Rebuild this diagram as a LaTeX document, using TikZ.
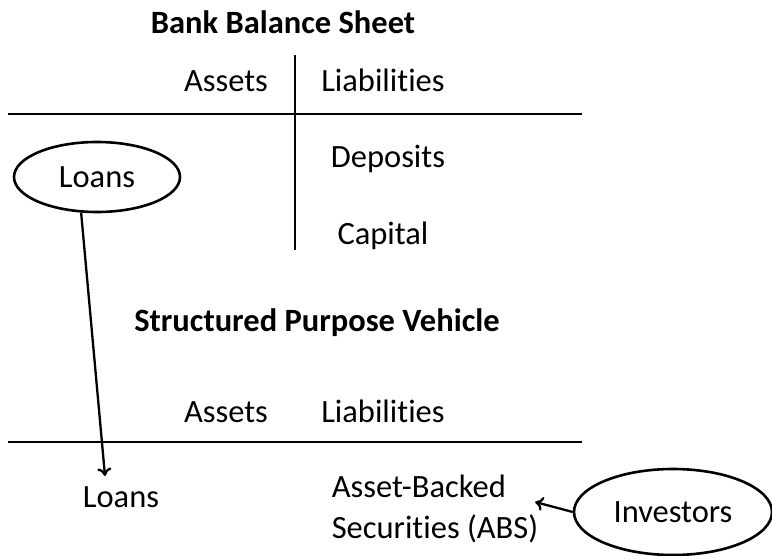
\documentclass[tikz,border=0pt]{standalone}
\usepackage{fontspec}
\setmainfont{Carlito}[Ligatures=NoCommon]
\usetikzlibrary{calc, arrows, arrows.meta, shapes.geometric, positioning}

\begin{document}
\begin{tikzpicture}[x=1pt,y=-1pt,inner sep=.8pt,node distance=157pt,>={To[length=8pt,width=14pt]},
  font=\fontsize{32.5}{41}\selectfont,
  title/.style={font=\bfseries\fontsize{32.5}{38}\selectfont},
  txt/.style={text height=22pt,text depth=7pt},
  oval/.style={draw,ellipse,line width=2.6pt},
  rule/.style={line width=2.3pt}]
\useasboundingbox (0,0) rectangle (772,556);
% bank balance sheet
\draw node [title] (T1) at (283,22) {Bank Balance Sheet};
\draw node [txt] (A1) at (226,84.5)   {Assets};
\draw node [txt,right of=A1] (B1)     {Liabilities};
\draw node [txt,below=76pt of B1.center,anchor=center,xshift=5pt] (D1) {Deposits};
\draw node [txt,below=77pt of D1.center,anchor=center,xshift=-5pt] (C1) {Capital};
\draw node [oval,minimum width=166pt,minimum height=70pt] (L1) at (97,177) {Loans};
\draw [rule] (295,55) -- (295,250);
\draw [rule] (8,114) -- (582,114);
% structured purpose vehicle
\draw node [title] (T2) at (317,323) {Structured Purpose Vehicle};
\draw node [txt] (A2) at (226,414.5)  {Assets};
\draw node [txt,right of=A2] (B2)     {Liabilities};
\draw [rule] (8,442) -- (582,442);
\draw node [txt] (L2) at (121,499.5)  {Loans};
\draw node [align=left] (S2) at (435,509) {Asset-Backed\\Securities (ABS)};
\draw node [oval,minimum width=198pt,minimum height=86pt] (I1) at (673,512) {Investors};
\coordinate (L2in) at ($ (L2.north) + (-16,-8) $);
\coordinate (S2in) at ($ (S2.east) + (-4,-7) $);
\draw [->,rule] (L1.246) -- (L2in);
\draw [->,rule] (I1.west) -- (S2in);
\end{tikzpicture}
\end{document}
